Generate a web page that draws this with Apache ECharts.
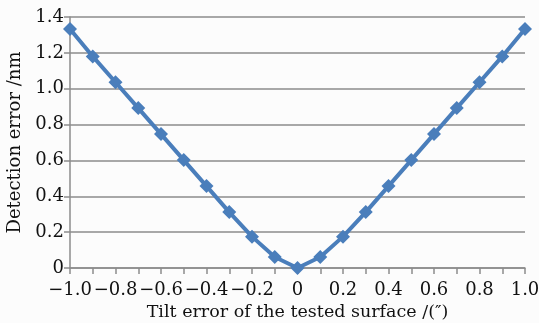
<!DOCTYPE html>
<html><head><meta charset="utf-8">
<script src="https://cdn.jsdelivr.net/npm/echarts@6/dist/echarts.min.js"></script>
<style>html,body{margin:0;padding:0;background:#fcfcfc}#c{width:539px;height:323px}</style>
</head><body><div id="c"></div>
<script>
const xValues = [-1.0,-0.9,-0.8,-0.7,-0.6,-0.5,-0.4,-0.3,-0.2,-0.1,0,0.1,0.2,0.3,0.4,0.5,0.6,0.7,0.8,0.9,1.0];
const yValues = [1.333,1.18,1.036,0.892,0.747,0.602,0.457,0.312,0.175,0.061,0,0.061,0.175,0.312,0.457,0.602,0.747,0.892,1.036,1.18,1.333];
const xTitle = 'Tilt error of the tested surface /(\u2033)';
const yTitle = 'Detection error /nm';
const font = 'DejaVu Serif';
function fmt(v, d){ if (Math.abs(v) < 1e-9) return '0'; const s = Math.abs(v).toFixed(d); return (v<0?'\u2212':'') + s; }
const chart = echarts.init(document.getElementById('c'));
chart.setOption({
  backgroundColor:'#fcfcfc',
  animation:false,
  grid:{left:70,right:14,top:17,bottom:55,containLabel:false,outerBoundsMode:'none'},
  xAxis:{type:'value',min:-1,max:1,interval:0.2,
    name:xTitle,nameLocation:'middle',nameGap:34,
    nameTextStyle:{fontFamily:font,fontSize:17.5,color:'#111'},
    axisLine:{show:true,onZero:false,lineStyle:{color:'#8c8c8c',width:1.5}},
    axisTick:{show:true,length:6,lineStyle:{color:'#8c8c8c',width:1.5}},
    minorTick:{show:true,splitNumber:2,length:6,lineStyle:{color:'#8c8c8c',width:1.5}},
    splitLine:{show:false},
    axisLabel:{fontFamily:font,fontSize:18,color:'#111',margin:13,hideOverlap:false,formatter:v=>fmt(v,1)}},
  yAxis:{type:'value',min:0,max:1.4,interval:0.2,
    name:yTitle,nameLocation:'middle',nameGap:39,
    nameTextStyle:{fontFamily:font,fontSize:18,color:'#111'},
    axisLine:{show:true,onZero:false,lineStyle:{color:'#8c8c8c',width:1.5}},
    axisTick:{show:true,length:6,lineStyle:{color:'#8c8c8c',width:1.5}},
    splitLine:{show:true,lineStyle:{color:'#8c8c8c',width:1.5}},
    axisLabel:{fontFamily:font,fontSize:18,color:'#111',margin:6,formatter:v=>fmt(v,1)}},
  series:[{type:'line',data:xValues.map((x,i)=>[x,yValues[i]]),
    symbol:'diamond',symbolSize:14,
    lineStyle:{color:'#4a7ebb',width:4},
    itemStyle:{color:'#4a7ebb'}}]
});
</script></body></html>
